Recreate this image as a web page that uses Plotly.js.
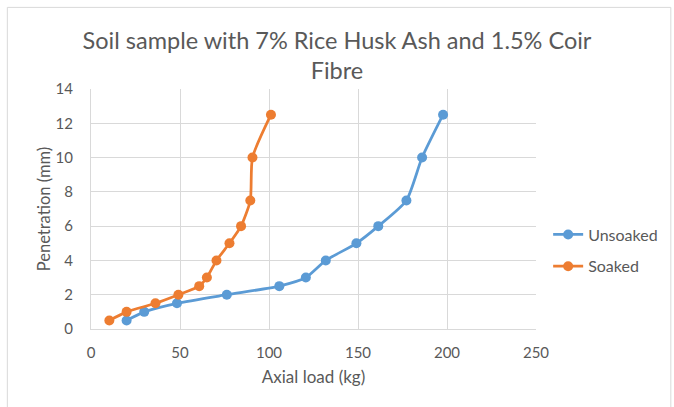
<!DOCTYPE html>
<html>
<head>
<meta charset="utf-8">
<script src="https://cdn.plot.ly/plotly-3.0.1.min.js"></script>
<style>
html,body{margin:0;padding:0;background:#fff;}
#chart{width:674px;height:407px;}
</style>
</head>
<body>
<div id="chart"></div>
<script>
var unsoakedLoad = [20, 29.9, 48.3, 76.3, 105.8, 120.7, 131.9, 149.1, 161.4, 177.2, 186, 197.8];
var unsoakedPen  = [0.5, 1, 1.5, 2, 2.5, 3, 4, 5, 6, 7.5, 10, 12.5];
var soakedLoad = [10.3, 20, 36.2, 49.1, 60.8, 65.1, 70.5, 77.8, 84.3, 89.5, 90.7, 101.1];
var soakedPen  = [0.5, 1, 1.5, 2, 2.5, 3, 4, 5, 6, 7.5, 10, 12.5];
var seriesNames = ['Unsoaked', 'Soaked'];
var xTicks = [0, 50, 100, 150, 200, 250];
var yTicks = [0, 2, 4, 6, 8, 10, 12, 14];

var FONT = 'Lato, "Open Sans", sans-serif';
var traces = [
  {x: unsoakedLoad, y: unsoakedPen, name: seriesNames[0], type: 'scatter', mode: 'lines+markers',
   legendgroup: 'a',
   line: {color: '#5B9BD5', width: 2.75, shape: 'spline', smoothing: 0.6},
   marker: {color: '#5B9BD5', size: 10}},
  {x: soakedLoad, y: soakedPen, name: seriesNames[1], type: 'scatter', mode: 'lines+markers',
   legendgroup: 'b',
   line: {color: '#ED7D31', width: 2.75, shape: 'spline', smoothing: 0.6},
   marker: {color: '#ED7D31', size: 10}}
];
var layout = {
  width: 674, height: 407,
  margin: {l: 91, r: 137, t: 89, b: 78},
  paper_bgcolor: '#fff', plot_bgcolor: '#fff',
  font: {family: FONT, color: '#595959', size: 15},
  title: {text: 'Soil sample with 7% Rice Husk Ash and 1.5% Coir<br>Fibre',
          font: {family: FONT, size: 23.5, color: '#595959'},
          x: 0.5, xanchor: 'center', y: 0.88, yanchor: 'top'},
  xaxis: {range: [0, 250], tickvals: xTicks, ticktext: xTicks.map(String),
          showgrid: true, gridcolor: '#D9D9D9', gridwidth: 1,
          zeroline: false, showline: true, linecolor: '#D9D9D9', mirror: false,
          ticks: '', ticklabelstandoff: 10,
          tickfont: {size: 15, color: '#595959', family: FONT},
          title: {text: 'Axial load (kg)', font: {size: 17, color: '#595959', family: FONT}, standoff: 11}},
  yaxis: {range: [0, 14], tickvals: yTicks, ticktext: yTicks.map(String),
          showgrid: true, gridcolor: '#D9D9D9', gridwidth: 1,
          zeroline: false, showline: true, linecolor: '#D9D9D9',
          ticks: '', ticklabelstandoff: 14,
          tickfont: {size: 15, color: '#595959', family: FONT},
          title: {text: 'Penetration (mm)', font: {size: 16.5, color: '#595959', family: FONT}, standoff: 0}},
  showlegend: true,
  legend: {x: 1.025, y: 0.327, xanchor: 'left', yanchor: 'middle',
           font: {size: 16, color: '#595959', family: FONT}, tracegroupgap: 8,
           bgcolor: 'rgba(0,0,0,0)'},
  shapes: [
    {type: 'line', xref: 'paper', yref: 'paper', x0: -0.188, x1: -0.188, y0: 1.34, y1: -0.35,
     line: {color: '#D9D9D9', width: 1}},
    {type: 'line', xref: 'paper', yref: 'paper', x0: -0.188, x1: 1.303, y0: 1.34, y1: 1.34,
     line: {color: '#D9D9D9', width: 1}},
    {type: 'line', xref: 'paper', yref: 'paper', x0: 1.303, x1: 1.303, y0: 1.34, y1: -0.35,
     line: {color: '#D9D9D9', width: 1}}
  ]
};
Plotly.newPlot('chart', traces, layout, {displayModeBar: false, staticPlot: true});
</script>
</body>
</html>
